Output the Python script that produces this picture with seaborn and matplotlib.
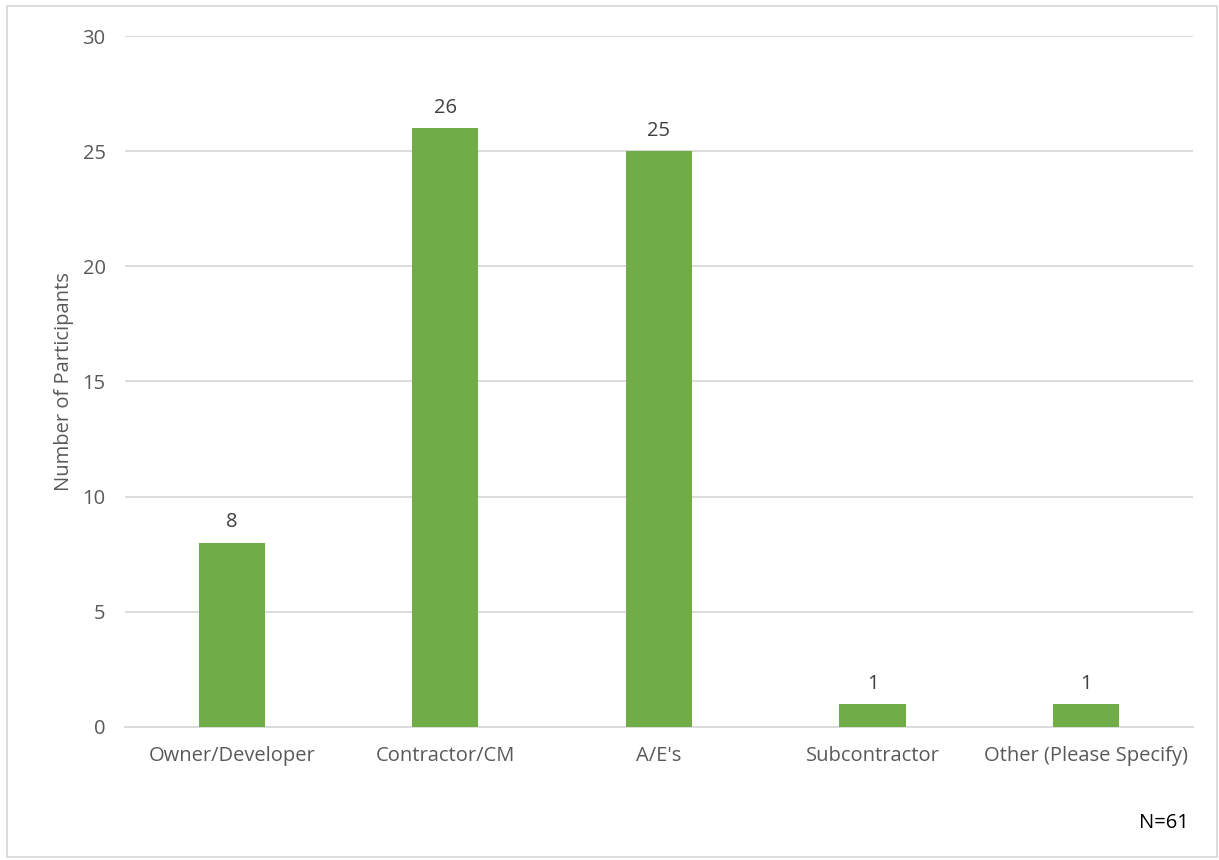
import matplotlib.pyplot as plt
import seaborn as sns
import pandas as pd
from matplotlib.patches import Rectangle

# Data
categories = ['Owner/Developer', 'Contractor/CM', "A/E's", 'Subcontractor', 'Other (Please Specify)']
participants = [8, 26, 25, 1, 1]

df = pd.DataFrame({'role': categories, 'count': participants})

sns.set_style('white')
plt.rcParams['font.family'] = ['Open Sans', 'DejaVu Sans']

fig = plt.figure(figsize=(12.19, 8.6), dpi=100)
ax = fig.add_axes([0.1025, 0.1547, 0.8762, 0.8034])

sns.barplot(data=df, x='role', y='count', color='#70AD47', saturation=1,
            width=0.31, linewidth=0, ax=ax, zorder=3)

ax.set_ylim(0, 30)
ax.set_xlim(-0.5, 4.5)
ax.set_yticks(range(0, 31, 5))
ax.yaxis.grid(True, color='#D9D9D9', linewidth=1.3, zorder=0)
ax.set_axisbelow(True)
for s in ['top', 'right', 'left']:
    ax.spines[s].set_visible(False)
ax.spines['bottom'].set_color('#D9D9D9')
ax.spines['bottom'].set_linewidth(1.3)

ax.tick_params(axis='both', length=0, labelsize=14.5, labelcolor='#595959')
ax.tick_params(axis='y', pad=14)
ax.tick_params(axis='x', pad=14)
ax.set_xlabel('')
ax.set_ylabel('Number of Participants', fontsize=14.5, color='#595959', labelpad=6)

# value labels
for i, v in enumerate(participants):
    ax.text(i, v + 0.45, str(v), ha='center', va='bottom', fontsize=14.5, color='#404040')

fig.text(0.975, 0.043, 'N=61', ha='right', va='center', fontsize=14.5, color='#000000')

# outer chart border
fig.patches.append(Rectangle((0.006, 0.003), 0.992, 0.99, transform=fig.transFigure,
                             fill=False, edgecolor='#D9D9D9', linewidth=1.3))

fig.savefig('out.png', dpi=100)
